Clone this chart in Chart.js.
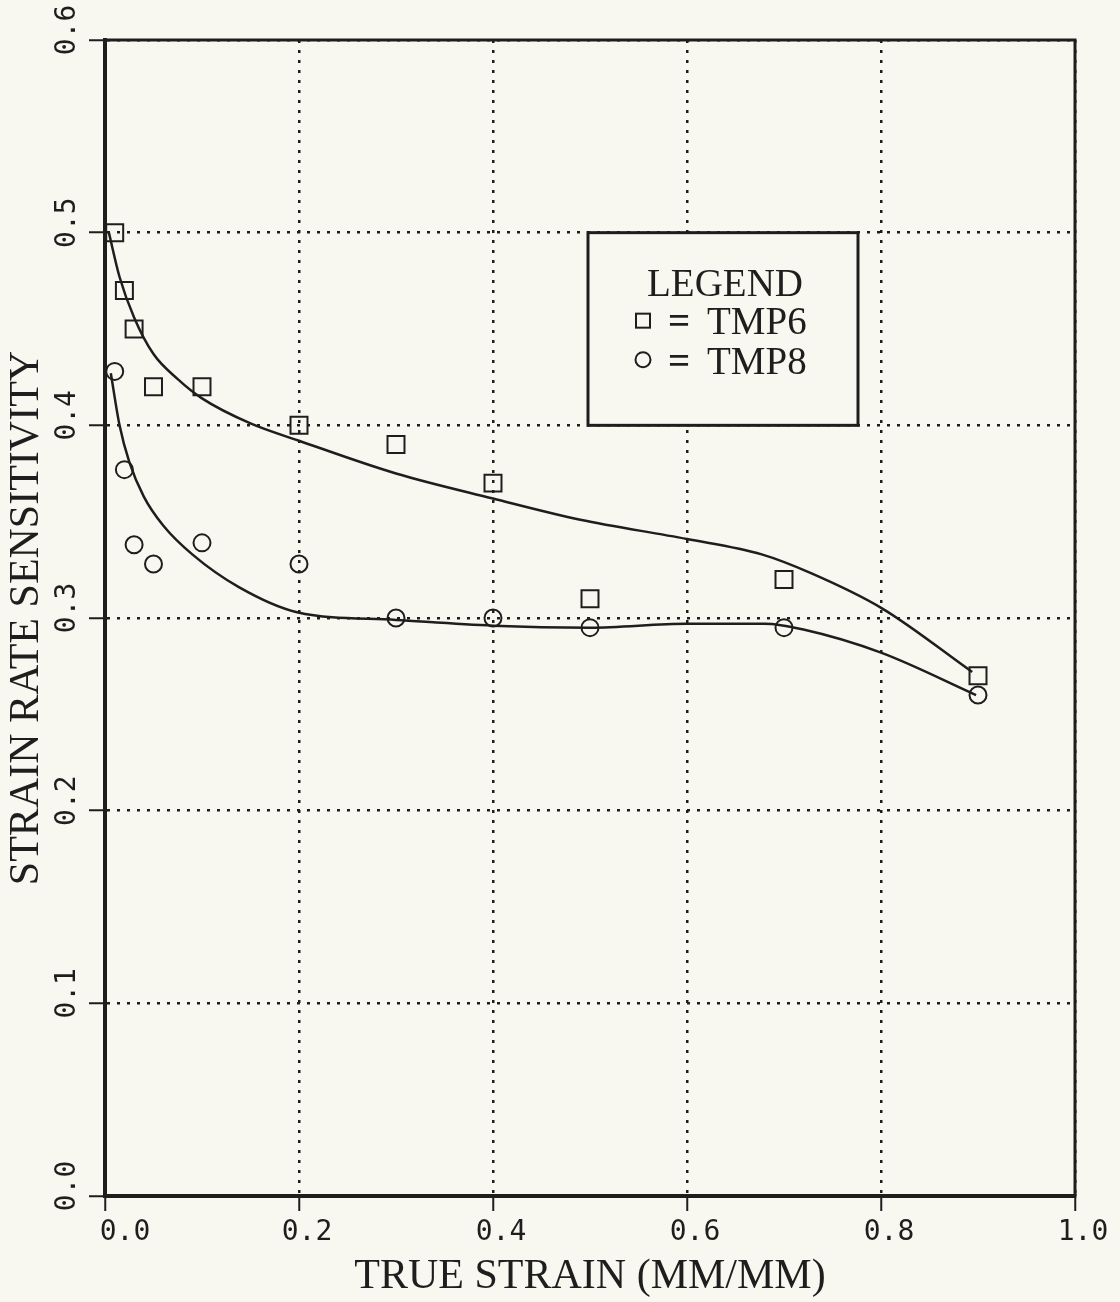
<!DOCTYPE html>
<html lang="en">

<head>
    <meta charset="UTF-8">
    <title>Strain rate sensitivity</title>
    <style>
        body { margin: 0; background: #f8f8f0; }
    </style>
</head>

<body>
    <canvas id="myChart" width="1120" height="1302"></canvas>

    <script src="https://cdn.jsdelivr.net/npm/chart.js"></script>

    <script>
        // measured points
        let v_strain6 = [0.01, 0.02, 0.03, 0.05, 0.1, 0.2, 0.3, 0.4, 0.5, 0.7, 0.9];
        let v_srs6 = [0.50, 0.47, 0.45, 0.42, 0.42, 0.40, 0.39, 0.37, 0.31, 0.32, 0.27];
        let v_strain8 = [0.01, 0.02, 0.03, 0.05, 0.1, 0.2, 0.3, 0.4, 0.5, 0.7, 0.9];
        let v_srs8 = [0.428, 0.377, 0.338, 0.328, 0.339, 0.328, 0.300, 0.300, 0.295, 0.295, 0.260];

        // fitted curves
        let v_fitX6 = [0.004, 0.015, 0.03, 0.05, 0.075, 0.1, 0.15, 0.2, 0.3, 0.4, 0.49, 0.6, 0.677, 0.729, 0.801, 0.894];
        let v_fitY6 = [0.500, 0.477, 0.456, 0.437, 0.424, 0.414, 0.401, 0.392, 0.375, 0.362, 0.351, 0.341, 0.333, 0.323, 0.305, 0.272];
        let v_fitX8 = [0.006, 0.015, 0.025, 0.04, 0.06, 0.09, 0.138, 0.198, 0.3, 0.4, 0.5, 0.6, 0.68, 0.72, 0.8, 0.898];
        let v_fitY8 = [0.427, 0.400, 0.381, 0.363, 0.348, 0.333, 0.316, 0.303, 0.299, 0.296, 0.295, 0.297, 0.297, 0.294, 0.282, 0.260];

        let v_xTicks = ["0.0", "0.2", "0.4", "0.6", "0.8", "1.0"];
        let v_yTicks = ["0.0", "0.1", "0.2", "0.3", "0.4", "0.5", "0.6"];

        const ink = "#1e1e1e";
        const paper = "#f8f8f0";

        function f_pts(xs, ys) {
            let out = [];
            for (let i = 0; i < xs.length; i++) {
                out.push({ x: xs[i], y: ys[i] });
            }
            return out;
        }

        // frame, tick labels and the boxed legend
        const decor = {
            id: "decor",
            afterDraw(chart) {
                const ctx = chart.ctx;
                const a = chart.chartArea;
                const sx = chart.scales.x;
                const sy = chart.scales.y;
                ctx.save();
                ctx.strokeStyle = ink;
                ctx.fillStyle = ink;

                // top + right frame
                ctx.lineWidth = 3;
                ctx.beginPath();
                ctx.moveTo(a.left, a.top);
                ctx.lineTo(a.right, a.top);
                ctx.lineTo(a.right, a.bottom);
                ctx.stroke();

                ctx.font = '28px "DejaVu Sans Mono"';
                ctx.textAlign = "center";
                ctx.textBaseline = "middle";
                for (let i = 0; i < v_xTicks.length; i++) {
                    let px = sx.getPixelForValue(parseFloat(v_xTicks[i]));
                    ctx.fillText(v_xTicks[i], px + (i == 0 ? 20 : 8), a.bottom + 37);
                }
                for (let i = 0; i < v_yTicks.length; i++) {
                    let py = sy.getPixelForValue(parseFloat(v_yTicks[i]));
                    ctx.save();
                    ctx.translate(a.left - 37, py - 10);
                    ctx.rotate(-Math.PI / 2);
                    ctx.fillText(v_yTicks[i], 0, 0);
                    ctx.restore();
                }

                // legend box
                let bx = 588, by = sy.getPixelForValue(0.5), bw = 270, bh = sy.getPixelForValue(0.4) - by;
                ctx.fillStyle = paper;
                ctx.fillRect(bx, by, bw, bh);
                ctx.fillStyle = ink;
                ctx.lineWidth = 3;
                ctx.strokeRect(bx, by, bw, bh);
                ctx.font = '39px "Liberation Serif"';
                ctx.textAlign = "center";
                ctx.textBaseline = "alphabetic";
                ctx.fillText("LEGEND", bx + 137, by + 63);
                ctx.textAlign = "left";
                ctx.font = 'bold 39px "Liberation Serif"';
                ctx.fillText("=", bx + 80, by + 101);
                ctx.fillText("=", bx + 80, by + 141);
                ctx.font = '39px "Liberation Serif"';
                ctx.fillText("TMP6", bx + 119, by + 101);
                ctx.fillText("TMP8", bx + 119, by + 141);
                ctx.lineWidth = 2;
                ctx.strokeRect(bx + 48, by + 81, 14, 14);
                ctx.beginPath();
                ctx.arc(bx + 55, by + 127, 7.5, 0, Math.PI * 2);
                ctx.stroke();
                ctx.restore();
            }
        };

        const ctx = document.getElementById("myChart");

        let v_chart = new Chart(ctx, {
            type: "scatter",
            data: {
                datasets: [{
                    label: "TMP6",
                    data: f_pts(v_strain6, v_srs6),
                    pointStyle: "rect",
                    pointRadius: 12,
                    borderWidth: 2,
                    borderColor: ink,
                    backgroundColor: "rgba(0,0,0,0)"
                }, {
                    label: "TMP8",
                    data: f_pts(v_strain8, v_srs8),
                    pointStyle: "circle",
                    pointRadius: 8.5,
                    borderWidth: 2,
                    borderColor: ink,
                    backgroundColor: "rgba(0,0,0,0)"
                }, {
                    label: "fit TMP6",
                    data: f_pts(v_fitX6, v_fitY6),
                    showLine: true,
                    pointRadius: 0,
                    borderWidth: 2.5,
                    borderColor: ink,
                    cubicInterpolationMode: "monotone"
                }, {
                    label: "fit TMP8",
                    data: f_pts(v_fitX8, v_fitY8),
                    showLine: true,
                    pointRadius: 0,
                    borderWidth: 2.5,
                    borderColor: ink,
                    cubicInterpolationMode: "monotone"
                }]
            },
            options: {
                responsive: false,
                animation: false,
                layout: { padding: { top: 40, right: 45, left: 0, bottom: 0 } },
                plugins: {
                    legend: { display: false },
                    tooltip: { enabled: false }
                },
                scales: {
                    x: {
                        type: "linear",
                        min: 0,
                        max: 1,
                        afterFit: (s) => { s.height = 106; },
                        ticks: { stepSize: 0.2, display: false },
                        grid: {
                            color: ink,
                            lineWidth: 2.5,
                            tickLength: 15,
                            tickColor: ink,
                            tickWidth: 2,
                            tickBorderDash: []
                        },
                        border: { color: ink, width: 4, dash: [3, 7] },
                        title: {
                            display: true,
                            text: "TRUE STRAIN (MM/MM)",
                            color: ink,
                            font: { family: "Liberation Serif", size: 42 },
                            padding: { top: 0, bottom: 0 }
                        }
                    },
                    y: {
                        min: 0,
                        max: 0.6,
                        afterFit: (s) => { s.width = 105; },
                        ticks: { stepSize: 0.1, display: false },
                        grid: {
                            color: ink,
                            lineWidth: 2.5,
                            tickLength: 16,
                            tickColor: ink,
                            tickWidth: 2,
                            tickBorderDash: []
                        },
                        border: { color: ink, width: 4, dash: [3, 7] },
                        title: {
                            display: true,
                            text: "STRAIN RATE SENSITIVITY",
                            color: ink,
                            font: { family: "Liberation Serif", size: 42 },
                            padding: { top: 2, bottom: 0 }
                        }
                    }
                }
            },
            plugins: [decor]
        });
    </script>
</body>

</html>
